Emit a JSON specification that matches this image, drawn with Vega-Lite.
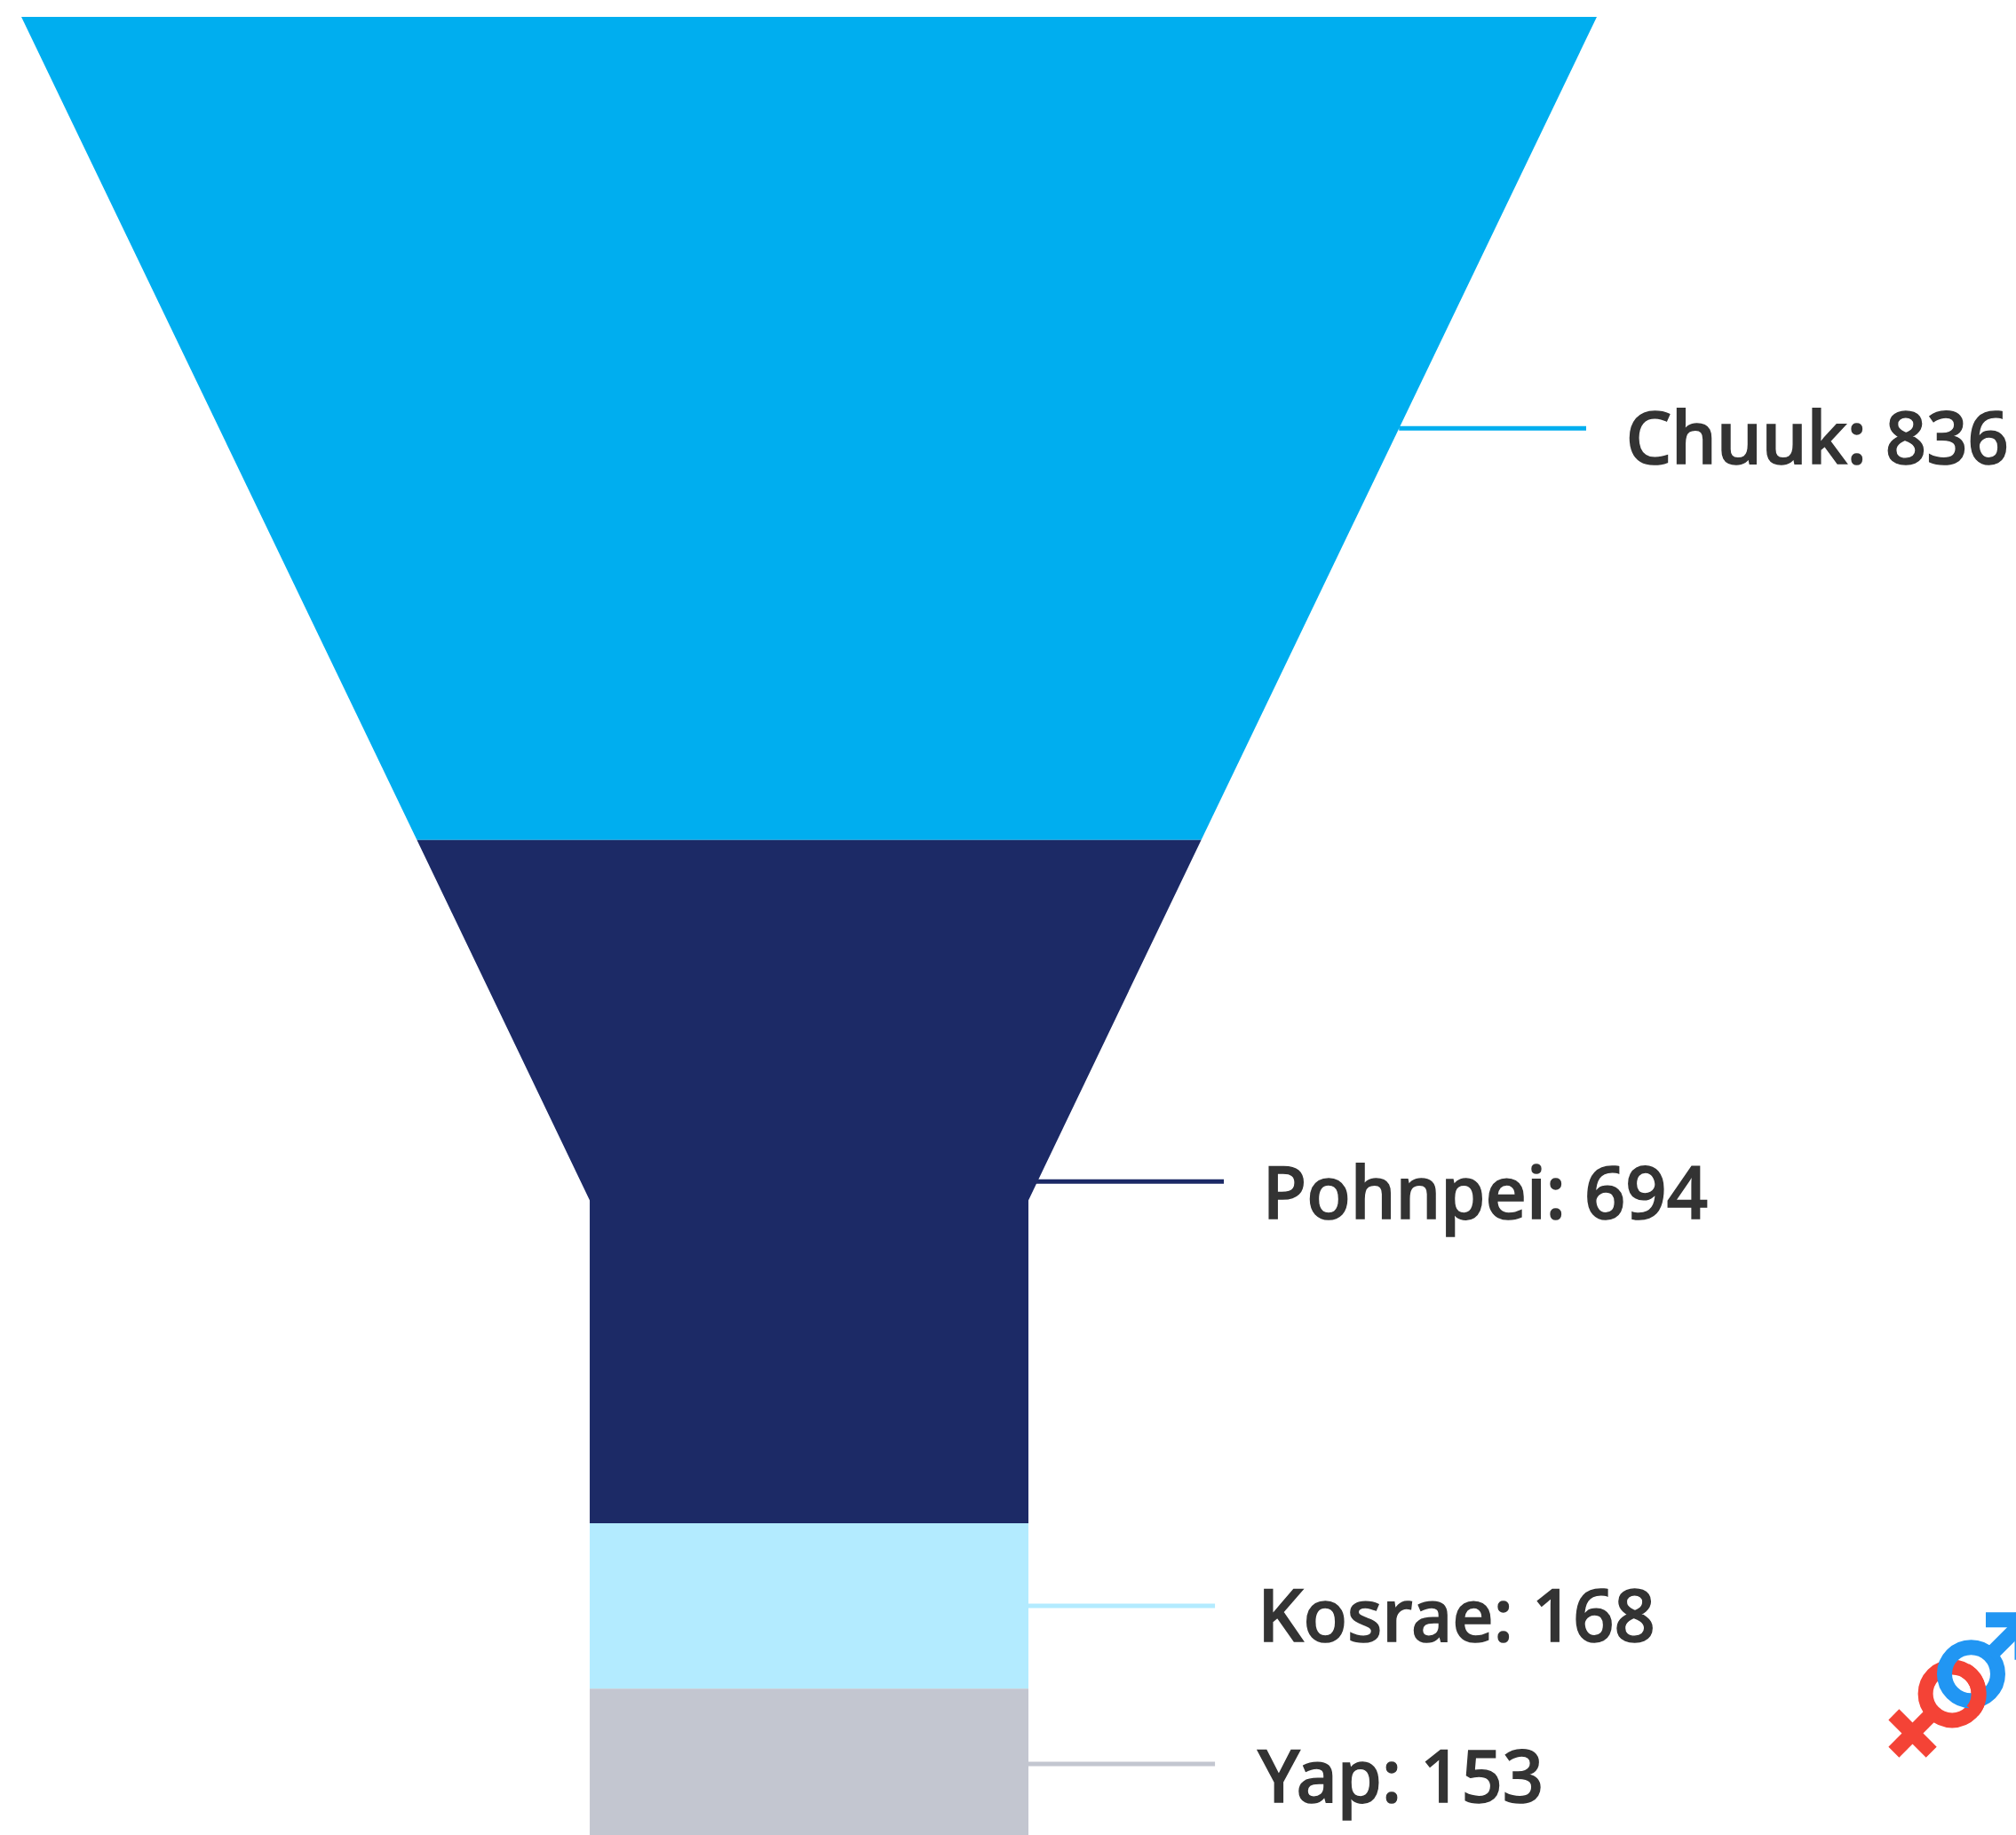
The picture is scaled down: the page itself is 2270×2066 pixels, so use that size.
{
"$schema":"https://vega.github.io/schema/vega-lite/v6.json",
"width":2270,"height":2066,"padding":0,"autosize":"none","background":"#ffffff",
"config":{"view":{"stroke":null},"axis":{"disable":true},"legend":{"disable":true}},
"datasets":{
"funnel":[
{"state":"Chuuk","cum":0,"left":-800.5,"right":800.5},
{"state":"Chuuk","cum":836,"left":-398.5,"right":398.5},
{"state":"Pohnpei","cum":836,"left":-398.5,"right":398.5},
{"state":"Pohnpei","cum":1202,"left":-222.9,"right":222.9},
{"state":"Pohnpei","cum":1530,"left":-222.9,"right":222.9},
{"state":"Kosrae","cum":1530,"left":-222.9,"right":222.9},
{"state":"Kosrae","cum":1698,"left":-222.9,"right":222.9},
{"state":"Yap","cum":1698,"left":-222.9,"right":222.9},
{"state":"Yap","cum":1851,"left":-222.9,"right":222.9}],
"labels":[
{"state":"Chuuk","label":"Chuuk: 836","mid":418,"edge":599.5,"end":789.7,"tx":830,"ty":453.5},
{"state":"Pohnpei","label":"Pohnpei: 694","mid":1183,"edge":229,"end":421.5,"tx":461,"ty":1221},
{"state":"Kosrae","label":"Kosrae: 168","mid":1614,"edge":222.9,"end":412.5,"tx":456,"ty":1650},
{"state":"Yap","label":"Yap: 153","mid":1774.5,"edge":222.9,"end":412.5,"tx":456,"ty":1813}],
"icon":[
{"part":"red stem","x":1142.6,"y":1722,"x2":1102.3,"y2":1762.6},
{"part":"red arm","x":1102.3,"y":1724.3,"x2":1140.5,"y2":1762.5},
{"part":"blue stem","x":1199.9,"y":1664.3,"x2":1244.6,"y2":1619.6},
{"part":"blue bar","x":1195.8,"y":1628.2,"x2":1244.6,"y2":1628.2},
{"part":"blue post","x":1232.8,"y":1621,"x2":1232.8,"y2":1668.8}],
"rings":[
{"sex":"female","x":1161.6,"y":1703.1},
{"sex":"male","x":1180.9,"y":1683.2}]
},
"layer":[
{"data":{"name":"funnel"},
"mark":{"type":"area","orient":"horizontal","clip":true},
"encoding":{
"y":{"field":"cum","type":"quantitative","scale":{"domain":[-17.15,1846.65],"reverse":true,"nice":false,"zero":false}},
"x":{"field":"left","type":"quantitative","scale":{"domain":[-822.2,1226.5],"nice":false,"zero":false}},
"x2":{"field":"right"},
"color":{"field":"state","type":"nominal","scale":{"domain":["Chuuk","Pohnpei","Kosrae","Yap"],"range":["#00AEEF","#1C2A66","#B3EBFF","#C3C6D0"]}}}},
{"data":{"name":"labels"},
"mark":{"type":"rule","strokeWidth":5},
"encoding":{
"y":{"field":"mid","type":"quantitative"},
"x":{"field":"edge","type":"quantitative"},
"x2":{"field":"end"},
"color":{"field":"state","type":"nominal"}}},
{"data":{"name":"labels"},
"mark":{"type":"text","align":"left","baseline":"alphabetic","font":"Noto Sans","fontSize":81,"fontWeight":500,"fill":"#333333","stroke":"#333333","strokeWidth":1.6},
"encoding":{
"y":{"field":"ty","type":"quantitative"},
"x":{"field":"tx","type":"quantitative"},
"text":{"field":"label"}}},
{"data":{"name":"rings"},"transform":[{"filter":"datum.sex=='female'"}],
"mark":{"type":"point","filled":false,"shape":"circle","size":3600,"strokeWidth":17,"stroke":"#F44336","opacity":1},
"encoding":{"x":{"field":"x","type":"quantitative"},"y":{"field":"y","type":"quantitative"}}},
{"data":{"name":"icon"},"transform":[{"filter":"indexof(datum.part,'red')==0"}],
"mark":{"type":"rule","strokeWidth":17,"stroke":"#F44336"},
"encoding":{"x":{"field":"x","type":"quantitative"},"y":{"field":"y","type":"quantitative"},"x2":{"field":"x2"},"y2":{"field":"y2"}}},
{"data":{"name":"rings"},"transform":[{"filter":"datum.sex=='male'"}],
"mark":{"type":"point","filled":false,"shape":"circle","size":3600,"strokeWidth":17,"stroke":"#2196F3","opacity":1},
"encoding":{"x":{"field":"x","type":"quantitative"},"y":{"field":"y","type":"quantitative"}}},
{"data":{"name":"icon"},"transform":[{"filter":"indexof(datum.part,'blue')==0"}],
"mark":{"type":"rule","strokeWidth":17,"stroke":"#2196F3","clip":true},
"encoding":{"x":{"field":"x","type":"quantitative"},"y":{"field":"y","type":"quantitative"},"x2":{"field":"x2"},"y2":{"field":"y2"}}},
{"data":{"name":"rings"},"transform":[{"filter":"datum.sex=='female'"}],
"mark":{"type":"point","filled":false,"shape":"M 0.5,-0.866 A 1 1 0 0 1 0.766,0.643","size":3600,"strokeWidth":17,"stroke":"#F44336","opacity":1},
"encoding":{"x":{"field":"x","type":"quantitative"},"y":{"field":"y","type":"quantitative"}}}
]
}
